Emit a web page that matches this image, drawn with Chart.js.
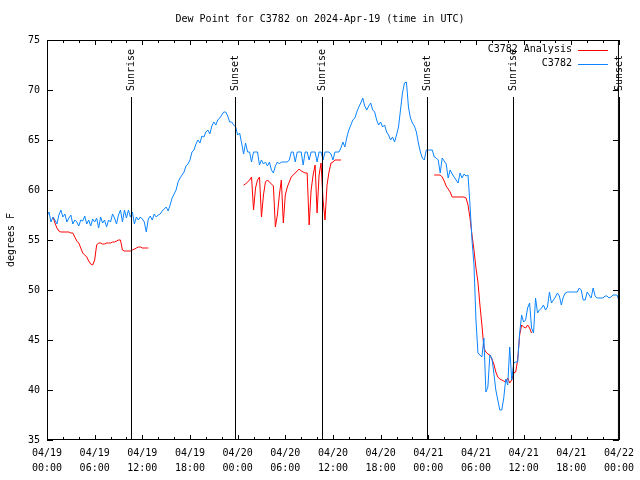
<!DOCTYPE html>
<html>
<head>
<meta charset="utf-8">
<script src="https://cdn.jsdelivr.net/npm/chart.js@4"></script>
<style>
  body { margin: 0; background: #fff; }
  #wrap { width: 640px; height: 480px; }
</style>
</head>
<body>
<div id="wrap"><canvas id="dewChart" width="640" height="480"></canvas></div>
<script>
// Dados: horas desde 04/19 00:00 UTC, leituras a cada 15 minutos
const stepHours = 0.25;

const xTickLabels = [
    ['04/19', '00:00'], ['04/19', '06:00'], ['04/19', '12:00'], ['04/19', '18:00'],
    ['04/20', '00:00'], ['04/20', '06:00'], ['04/20', '12:00'], ['04/20', '18:00'],
    ['04/21', '00:00'], ['04/21', '06:00'], ['04/21', '12:00'], ['04/21', '18:00'],
    ['04/22', '00:00']
];

// C3782 (estação), 04/19 00:00 ate 04/22 00:00
const stationValues = [
    57.4, 57.8, 56.8, 57.3,  57.0, 56.6, 57.5, 58.0,  57.3, 57.6, 56.8, 57.2,  57.5, 56.6, 57.0, 56.8,
    56.4, 57.0, 56.9, 57.4,  56.6, 57.0, 56.4, 57.1,  56.8, 57.2, 56.2, 57.3,  56.7, 57.0, 56.3, 57.0,
    56.8, 57.6, 57.2, 56.6,  57.5, 58.0, 56.8, 58.0,  57.2, 58.0, 57.3, 57.8,  56.6, 57.3, 57.0, 57.3,
    57.1, 56.8, 55.8, 57.1,  57.4, 57.0, 57.6, 57.3,  57.5, 57.6, 57.9, 58.1,  58.3, 57.9, 58.5, 59.2,
    59.6, 60.0, 60.8, 61.2,  61.5, 61.8, 62.4, 62.6,  63.0, 63.8, 64.0, 64.6,  65.0, 64.7, 65.4, 65.3,
    65.8, 66.0, 65.6, 66.4,  66.8, 66.5, 67.0, 67.2,  67.5, 67.8, 67.8, 67.4,  66.8, 66.8, 66.5, 66.3,
    65.5, 65.7, 64.7, 63.6,  64.7, 63.8, 63.8, 62.8,  63.8, 63.8, 63.8, 62.5,  63.0, 62.6, 62.8, 62.4,
    62.8, 62.0, 61.7, 62.4,  62.8, 62.6, 62.8, 62.8,  62.8, 62.8, 63.0, 63.8,  63.8, 62.8, 63.8, 63.8,
    63.8, 62.5, 63.8, 63.8,  63.0, 63.8, 63.8, 63.8,  62.8, 63.8, 63.8, 63.0,  63.8, 63.8, 63.8, 63.6,
    63.0, 63.8, 63.8, 63.8,  64.2, 64.8, 64.3, 65.3,  66.0, 66.5, 67.0, 67.2,  67.8, 68.3, 68.7, 69.2,
    68.4, 68.0, 68.4, 68.7,  68.0, 67.8, 67.0, 66.5,  66.8, 66.3, 66.5, 65.8,  65.5, 65.0, 65.3, 64.8,
    65.5, 66.3, 68.0, 69.7,  70.7, 70.8, 68.3, 67.2,  66.7, 66.4, 65.8, 64.7,  63.8, 63.2, 63.0, 64.0,
    64.0, 64.0, 64.0, 63.3,  63.2, 63.0, 61.7, 63.2,  62.9, 62.6, 61.2, 62.0,  61.6, 61.3, 61.0, 60.7,
    61.7, 61.2, 61.6, 61.4,  61.5, 58.5, 55.0, 52.5,  47.0, 43.7, 43.5, 43.3,  45.2, 39.8, 40.3, 43.5,
    43.2, 41.7, 40.0, 39.0,  38.0, 38.0, 39.2, 41.1,  40.5, 44.3, 41.0, 42.7,  42.8, 42.8, 45.7, 47.5,
    46.8, 47.0, 48.2, 48.7,  46.2, 45.7, 49.2, 47.7,  48.0, 48.2, 48.5, 48.0,  48.3, 49.8, 48.7, 49.0,
    49.3, 49.7, 49.4, 48.5,  49.3, 49.7, 49.8, 49.8,  49.8, 49.8, 49.8, 49.8,  50.2, 50.0, 49.0, 49.0,
    49.8, 49.5, 49.2, 50.2,  49.4, 49.2, 49.2, 49.2,  49.2, 49.4, 49.4, 49.2,  49.3, 49.5, 49.5, 49.5,
    49.0
];

// C3782 Analysis: tres trechos, cada um com sua hora inicial
const analysisStarts = [0.75, 24.75, 48.75];
const analysisNight1 = [
    57.3,
    56.7, 56.2, 55.9, 55.8,  55.8, 55.8, 55.8, 55.8,  55.7, 55.7, 55.3, 54.9,  54.7, 54.2, 53.7, 53.5,
    53.3, 52.9, 52.6, 52.5,  53.0, 54.5, 54.7, 54.7,  54.6, 54.6, 54.7, 54.7,  54.7, 54.8, 54.8, 54.9,
    55.0, 55.0, 54.0, 53.9,  53.9, 53.9, 53.9, 54.0,  54.1, 54.2, 54.3, 54.3,  54.2, 54.2, 54.2, 54.2
];
const analysisNight2 = [
    60.5,
    60.6, 60.8, 61.0, 61.3,  58.0, 60.2, 61.0, 61.3,  57.3, 59.5, 60.8, 61.0,  60.8, 60.6, 60.4, 56.3,
    57.5, 59.5, 61.0, 56.7,  59.5, 60.3, 60.8, 61.3,  61.5, 61.7, 61.9, 62.1,  61.9, 61.8, 61.7, 61.7,
    56.5, 60.0, 61.5, 62.5,  57.7, 61.5, 62.7, 59.0,  57.0, 60.5, 61.8, 62.7,  62.8, 63.0, 63.0, 63.0,
    63.0
];
const analysisNight3 = [
    61.5,
    61.5, 61.5, 61.5, 61.3,  60.9, 60.4, 60.1, 59.8,  59.3, 59.3, 59.3, 59.3,  59.3, 59.3, 59.3, 59.2,
    58.5, 57.2, 55.5, 54.0,  52.2, 50.8, 48.5, 46.5,  44.2, 43.8, 43.6, 43.5,  43.1, 42.6, 41.8, 41.3,
    41.1, 41.0, 40.9, 40.8,  41.2, 40.7, 41.0, 41.7,  41.8, 43.0, 45.5, 46.5,  46.3, 46.2, 46.5, 46.2,
    45.7
];

// Nascer e por do sol (horas)
const sunHours = [10.54, 23.71, 34.62, 47.79, 58.71, 72.0];
const sunLabels = ['Sunrise', 'Sunset', 'Sunrise', 'Sunset', 'Sunrise', 'Sunset'];

const FONT = "'DejaVu Sans Mono', monospace";
const RED = '#ff0000';
const BLUE = '#0a84ff';

// Monta os pontos
const stationPoints = stationValues.map((v, i) => ({ x: i * stepHours, y: v }));
const analysisPoints = [];
[analysisNight1, analysisNight2, analysisNight3].forEach((seg, s) => {
    if (s > 0) analysisPoints.push({ x: analysisStarts[s] - stepHours / 2, y: null });
    seg.forEach((v, i) => analysisPoints.push({ x: analysisStarts[s] + i * stepHours, y: v }));
});

// Moldura, marcas, linhas do sol, legenda e textos
const decorations = {
    id: 'decorations',
    afterDraw(chart) {
        const { ctx, chartArea: a, scales: { x, y } } = chart;
        ctx.save();
        ctx.strokeStyle = '#000';
        ctx.fillStyle = '#000';
        ctx.lineWidth = 1;
        ctx.font = '10px ' + FONT;

        ctx.strokeRect(a.left + 0.5, a.top + 0.5, a.right - a.left - 1, a.bottom - a.top - 1);

        ctx.beginPath();
        y.ticks.forEach(t => {
            const py = Math.round(y.getPixelForValue(t.value)) + 0.5;
            ctx.moveTo(a.left, py); ctx.lineTo(a.left + 6, py);
            ctx.moveTo(a.right, py); ctx.lineTo(a.right - 6, py);
        });
        for (let h = x.min; h <= x.max; h += 2) {
            const px = Math.round(x.getPixelForValue(h)) + 0.5;
            const len = h % 6 === 0 ? 5 : 3;
            ctx.moveTo(px, a.bottom); ctx.lineTo(px, a.bottom - len);
            ctx.moveTo(px, a.top); ctx.lineTo(px, a.top + len);
        }
        ctx.stroke();

        sunHours.forEach((h, i) => {
            const px = Math.round(x.getPixelForValue(h)) + 0.5;
            ctx.beginPath();
            ctx.moveTo(px, a.top + 57);
            ctx.lineTo(px, a.bottom);
            ctx.stroke();
            ctx.save();
            ctx.translate(px, a.top + 51);
            ctx.rotate(-Math.PI / 2);
            ctx.textAlign = 'left';
            ctx.textBaseline = 'middle';
            ctx.fillText(sunLabels[i], 0, 0);
            ctx.restore();
        });

        // legenda
        const rows = [['C3782 Analysis', RED], ['C3782', BLUE]];
        rows.forEach((r, i) => {
            const ly = a.top + 9.5 + i * 14;
            ctx.textAlign = 'right';
            ctx.textBaseline = 'middle';
            ctx.fillStyle = '#000';
            ctx.fillText(r[0], a.right - 47, ly);
            ctx.strokeStyle = r[1];
            ctx.beginPath();
            ctx.moveTo(a.right - 41, Math.round(ly) + 0.5);
            ctx.lineTo(a.right - 11, Math.round(ly) + 0.5);
            ctx.stroke();
        });

        ctx.fillStyle = '#000';
        ctx.textAlign = 'center';
        ctx.textBaseline = 'middle';
        ctx.fillText('Dew Point for C3782 on 2024-Apr-19 (time in UTC)', 320, 19);

        ctx.save();
        ctx.translate(11, (a.top + a.bottom) / 2);
        ctx.rotate(-Math.PI / 2);
        ctx.fillText('degrees F', 0, 0);
        ctx.restore();

        ctx.restore();
    }
};

const ctx = document.getElementById('dewChart').getContext('2d');
const dewChart = new Chart(ctx, {
    type: 'line',
    data: {
        datasets: [{
            label: 'C3782',
            data: stationPoints,
            borderColor: BLUE,
            borderWidth: 1,
            pointRadius: 0,
            tension: 0,
            order: 0
        }, {
            label: 'C3782 Analysis',
            data: analysisPoints,
            borderColor: RED,
            borderWidth: 1,
            pointRadius: 0,
            tension: 0,
            spanGaps: false,
            order: 1
        }]
    },
    options: {
        responsive: false,
        animation: false,
        devicePixelRatio: 1,
        layout: { padding: { top: 40, right: 19, left: 0, bottom: 0 } },
        plugins: {
            legend: { display: false },
            title: { display: false },
            tooltip: { enabled: false }
        },
        scales: {
            x: {
                type: 'linear',
                min: 0,
                max: 72,
                afterFit: function(scale) { scale.height = 40; },
                grid: { display: false, drawTicks: false },
                border: { display: false },
                ticks: {
                    stepSize: 6,
                    autoSkip: false,
                    maxRotation: 0,
                    padding: 6,
                    color: '#000',
                    font: { family: FONT, size: 10, lineHeight: 1.5 },
                    callback: function(value) { return xTickLabels[Math.round(value / 6)]; }
                }
            },
            y: {
                min: 35,
                max: 75,
                afterFit: function(scale) { scale.width = 47; },
                grid: { display: false, drawTicks: false },
                border: { display: false },
                ticks: {
                    stepSize: 5,
                    padding: 7,
                    color: '#000',
                    font: { family: FONT, size: 10 }
                }
            }
        }
    },
    plugins: [decorations]
});
</script>
</body>
</html>
